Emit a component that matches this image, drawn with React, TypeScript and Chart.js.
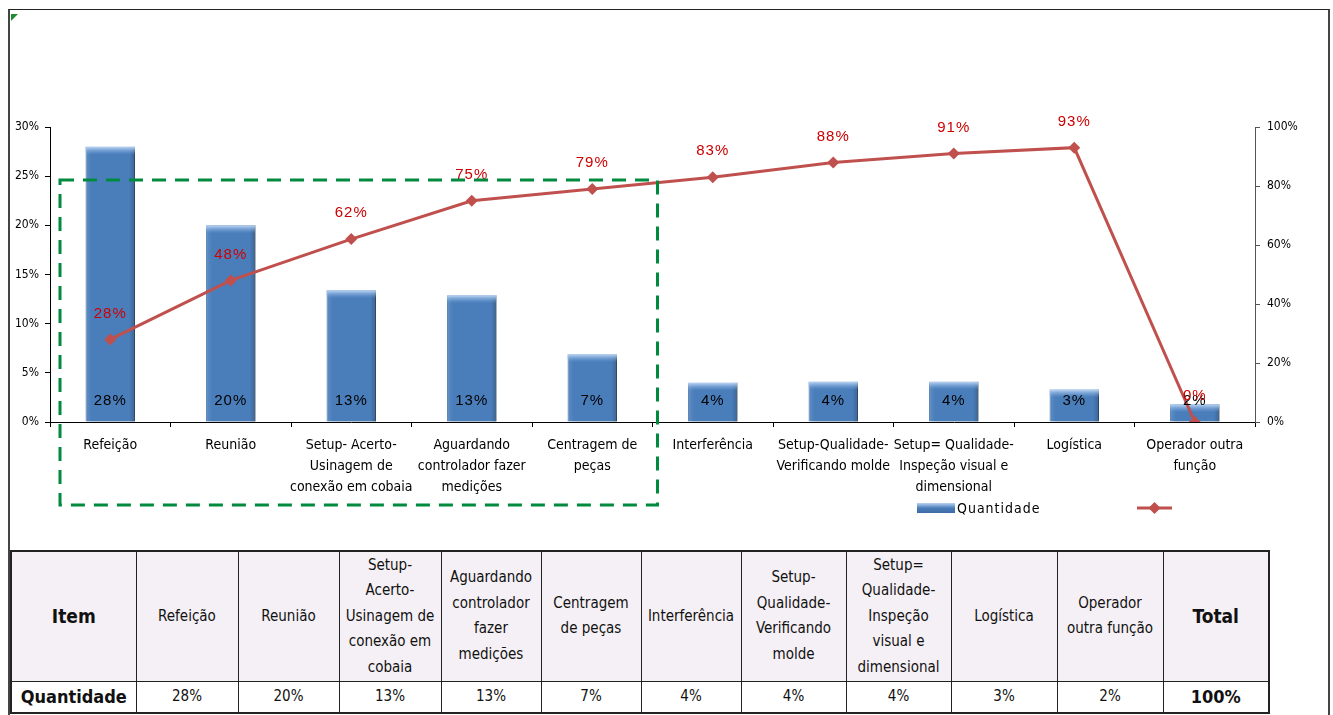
import React, { useEffect, useRef } from 'react';
import { Chart, registerables } from 'chart.js';

Chart.register(...registerables);

const FONT = "'Liberation Sans Narrow', 'Arial Narrow', 'DejaVu Sans Condensed', 'Liberation Sans', sans-serif";
const LABEL_FONT = "'Liberation Sans', Arial, sans-serif";

const categories: string[][] = [
  ['Refeição'],
  ['Reunião'],
  ['Setup- Acerto-', 'Usinagem de', 'conexão em cobaia'],
  ['Aguardando', 'controlador fazer', 'medições'],
  ['Centragem de', 'peças'],
  ['Interferência'],
  ['Setup-Qualidade-', 'Verificando molde'],
  ['Setup= Qualidade-', 'Inspeção visual e', 'dimensional'],
  ['Logística'],
  ['Operador outra', 'função'],
];

// bar series: Quantidade (% of total), left axis
const quantidade: number[] = [28, 20, 13.4, 12.9, 6.9, 4.0, 4.1, 4.1, 3.3, 1.8];
// line series: cumulative %, right axis
const acumulado: number[] = [28, 48, 62, 75, 79, 83, 88, 91, 93, 0];

const leftAxis = { min: 0, max: 30, step: 5 };
const rightAxis = { min: 0, max: 100, step: 20 };

// table below the chart
const tableHeaders: string[][] = [
  ['Refeição'],
  ['Reunião'],
  ['Setup-', 'Acerto-', 'Usinagem de', 'conexão em', 'cobaia'],
  ['Aguardando', 'controlador', 'fazer', 'medições'],
  ['Centragem', 'de peças'],
  ['Interferência'],
  ['Setup-', 'Qualidade-', 'Verificando', 'molde'],
  ['Setup=', 'Qualidade-', 'Inspeção', 'visual e', 'dimensional'],
  ['Logística'],
  ['Operador', 'outra função'],
];
const tableTotal = '100%';

// highlighted (vital few) group: categories 0..4, top at this left-axis value
const highlightFrom = 0;
const highlightTo = 4;
const highlightTop = 24.6;

const BAR_BLUE = '#4A7EBB';
const LINE_RED = '#C0504D';
const LABEL_RED = '#CC0000';

const paretoPlugin = {
  id: 'paretoDecor',
  beforeDatasetDraw(chart: any, args: any) {
    if (args.index !== 0) return;
    const c = chart.ctx;
    c.save();
    c.shadowColor = 'rgba(0,0,0,0.35)';
    c.shadowBlur = 4;
    c.shadowOffsetX = 3;
    c.shadowOffsetY = 1;
  },
  afterDatasetDraw(chart: any, args: any) {
    if (args.index !== 0) return;
    const c = chart.ctx;
    c.restore();
    const meta = chart.getDatasetMeta(0);
    meta.data.forEach((bar: any) => {
      const { x, y, base, width } = bar.getProps(['x', 'y', 'base', 'width'], true);
      const l = x - width / 2;
      const h = base - y;
      const hg = c.createLinearGradient(l, 0, l + width, 0);
      hg.addColorStop(0, 'rgba(255,255,255,0.12)');
      hg.addColorStop(0.12, 'rgba(255,255,255,0)');
      hg.addColorStop(0.88, 'rgba(0,0,0,0)');
      hg.addColorStop(1, 'rgba(0,0,0,0.2)');
      c.fillStyle = hg;
      c.fillRect(l, y, width, h);
      const bh = Math.min(8, h);
      const g = c.createLinearGradient(0, y, 0, y + bh);
      g.addColorStop(0, 'rgba(190,215,245,1)');
      g.addColorStop(1, 'rgba(120,165,220,0)');
      c.fillStyle = g;
      c.fillRect(l, y, width, bh);
    });
  },
  afterDatasetsDraw(chart: any) {
    const c = chart.ctx;
    c.save();
    c.textAlign = 'center';
    c.textBaseline = 'middle';
    (c as any).letterSpacing = '1px';
    c.font = `15px ${LABEL_FONT}`;
    const yBase = chart.scales.y.getPixelForValue(0);
    const barMeta = chart.getDatasetMeta(0);
    c.fillStyle = '#000';
    barMeta.data.forEach((bar: any, i: number) => {
      c.fillText(Math.round(quantidade[i]) + '%', bar.x, yBase - 21);
    });
    const lineMeta = chart.getDatasetMeta(1);
    c.fillStyle = LABEL_RED;
    lineMeta.data.forEach((pt: any, i: number) => {
      c.fillText(acumulado[i] + '%', pt.x, pt.y - 26);
    });
    c.restore();
  },
  afterDraw(chart: any) {
    const c = chart.ctx;
    const xs = chart.scales.x;
    const half = (xs.getPixelForValue(1) - xs.getPixelForValue(0)) / 2;
    const left = xs.getPixelForValue(highlightFrom) - half + 10;
    const right = xs.getPixelForValue(highlightTo) + half + 5;
    const top = chart.scales.y.getPixelForValue(highlightTop);
    const bottom = chart.chartArea.bottom + 83;
    c.save();
    c.strokeStyle = '#008A3E';
    c.lineWidth = 3;
    c.setLineDash([14, 9]);
    c.strokeRect(left, top, right - left, bottom - top);
    c.restore();

    // legend
    c.save();
    const ly = 508;
    const sx = 917;
    const g = c.createLinearGradient(0, ly - 5, 0, ly + 5);
    g.addColorStop(0, '#B9D3F3');
    g.addColorStop(0.5, BAR_BLUE);
    g.addColorStop(1, '#3E6AA3');
    c.fillStyle = g;
    c.fillRect(sx, ly - 5, 38, 10);
    c.fillStyle = '#000';
    c.font = `14px ${FONT}`;
    c.textAlign = 'left';
    c.textBaseline = 'middle';
    (c as any).letterSpacing = '1px';
    c.fillText(chart.data.datasets[0].label, sx + 40, ly + 1);
    c.strokeStyle = LINE_RED;
    c.lineWidth = 3;
    c.beginPath();
    c.moveTo(1137, ly);
    c.lineTo(1172, ly);
    c.stroke();
    c.fillStyle = LINE_RED;
    c.beginPath();
    c.moveTo(1154.5 - 6, ly);
    c.lineTo(1154.5, ly - 6);
    c.lineTo(1154.5 + 6, ly);
    c.lineTo(1154.5, ly + 6);
    c.closePath();
    c.fill();
    c.restore();
  },
};

function ParetoChart() {
  const ref = useRef<HTMLCanvasElement | null>(null);
  useEffect(() => {
    if (!ref.current) return;
    const chart = new Chart(ref.current, {
      type: 'bar',
      data: {
        labels: categories as any,
        datasets: [
          {
            type: 'bar',
            label: 'Quantidade',
            data: quantidade,
            backgroundColor: BAR_BLUE,
            borderColor: '#3D6DA8',
            borderWidth: 1,
            yAxisID: 'y',
            barPercentage: 0.41,
            categoryPercentage: 1,
            order: 2,
          } as any,
          {
            type: 'line',
            label: '',
            data: acumulado,
            borderColor: LINE_RED,
            backgroundColor: LINE_RED,
            borderWidth: 3,
            pointStyle: 'rectRot',
            pointRadius: 6,
            pointBorderWidth: 0,
            pointBackgroundColor: LINE_RED,
            yAxisID: 'y1',
            tension: 0,
            order: 1,
          } as any,
        ],
      },
      options: {
        animation: false,
        responsive: false,
        maintainAspectRatio: false,
        layout: { padding: { left: 10, right: 28, top: 127, bottom: 26 } },
        plugins: {
          legend: { display: false },
          tooltip: { enabled: false },
        },
        scales: {
          x: {
            offset: true,
            grid: { display: true, drawOnChartArea: false, tickLength: 5, color: '#000', offset: true },
            border: { color: '#000', width: 1 },
            ticks: {
              color: '#000',
              font: { family: FONT, size: 14, lineHeight: 1.5 },
              padding: 8,
              maxRotation: 0,
              autoSkip: false,
            },
            afterFit: (axis: any) => { axis.height = 100; },
          },
          y: {
            position: 'left',
            min: leftAxis.min,
            max: leftAxis.max,
            grid: { display: true, drawOnChartArea: false, tickLength: 5, color: '#000' },
            border: { color: '#000', width: 1 },
            ticks: {
              stepSize: leftAxis.step,
              color: '#000',
              font: { family: FONT, size: 12 },
              padding: 6,
              callback: (v: any) => v + '%',
            },
            afterFit: (axis: any) => { axis.width = 40; },
          },
          y1: {
            position: 'right',
            min: rightAxis.min,
            max: rightAxis.max,
            grid: { display: true, drawOnChartArea: false, tickLength: 5, color: '#555' },
            border: { color: '#555', width: 1 },
            ticks: {
              stepSize: rightAxis.step,
              color: '#000',
              font: { family: FONT, size: 12 },
              padding: 7,
              callback: (v: any) => v + '%',
            },
            afterFit: (axis: any) => { axis.width = 50; },
          },
        },
      },
      plugins: [paretoPlugin as any],
    });
    return () => chart.destroy();
  }, []);
  return <canvas ref={ref} width={1333} height={548} style={{ position: 'absolute', left: 0, top: 0, width: 1333, height: 548 }} />;
}

const colWidths = [125, 102, 101, 102, 100, 100, 100, 105, 105, 106, 106, 106];

function DataTable() {
  const cell: React.CSSProperties = {
    border: '1px solid #222',
    textAlign: 'center',
    verticalAlign: 'middle',
    padding: 0,
    fontFamily: FONT,
    fontSize: 15,
    lineHeight: '25.5px',
    color: '#111',
  };
  const headBg = '#F5F0F5';
  return (
    <table
      style={{
        position: 'absolute',
        left: 10,
        top: 550,
        width: 1258,
        height: 163,
        borderCollapse: 'collapse',
        tableLayout: 'fixed',
        border: '2px solid #222',
      }}
    >
      <colgroup>
        {colWidths.map((w, i) => (
          <col key={i} style={{ width: w }} />
        ))}
      </colgroup>
      <tbody>
        <tr style={{ height: 130 }}>
          <td style={{ ...cell, background: headBg, fontWeight: 'bold', fontSize: 19 }}>Item</td>
          {tableHeaders.map((lines, i) => (
            <td key={i} style={{ ...cell, background: headBg }}>
              {lines.map((l, j) => (
                <div key={j}>{l}</div>
              ))}
            </td>
          ))}
          <td style={{ ...cell, background: headBg, fontWeight: 'bold', fontSize: 19 }}>Total</td>
        </tr>
        <tr style={{ height: 32 }}>
          <td style={{ ...cell, fontWeight: 'bold', fontSize: 18 }}>Quantidade</td>
          {quantidade.map((v, i) => (
            <td key={i} style={cell}>
              {Math.round(v)}%
            </td>
          ))}
          <td style={{ ...cell, fontWeight: 'bold', fontSize: 18 }}>{tableTotal}</td>
        </tr>
      </tbody>
    </table>
  );
}

export default function App() {
  return (
    <div style={{ position: 'absolute', left: 0, top: 0, width: 1333, height: 715, background: '#fff', overflow: 'hidden' }}>
      <div
        style={{
          position: 'absolute',
          left: 8,
          top: 9,
          width: 1318,
          height: 720,
          borderLeft: '2px solid #444',
          borderTop: '1px solid #222',
          borderRight: '2px solid #444',
        }}
      />
      <div
        style={{
          position: 'absolute',
          left: 11,
          top: 14,
          width: 0,
          height: 0,
          borderTop: '7px solid #1E8C2E',
          borderRight: '7px solid transparent',
        }}
      />
      <ParetoChart />
      <DataTable />
    </div>
  );
}
